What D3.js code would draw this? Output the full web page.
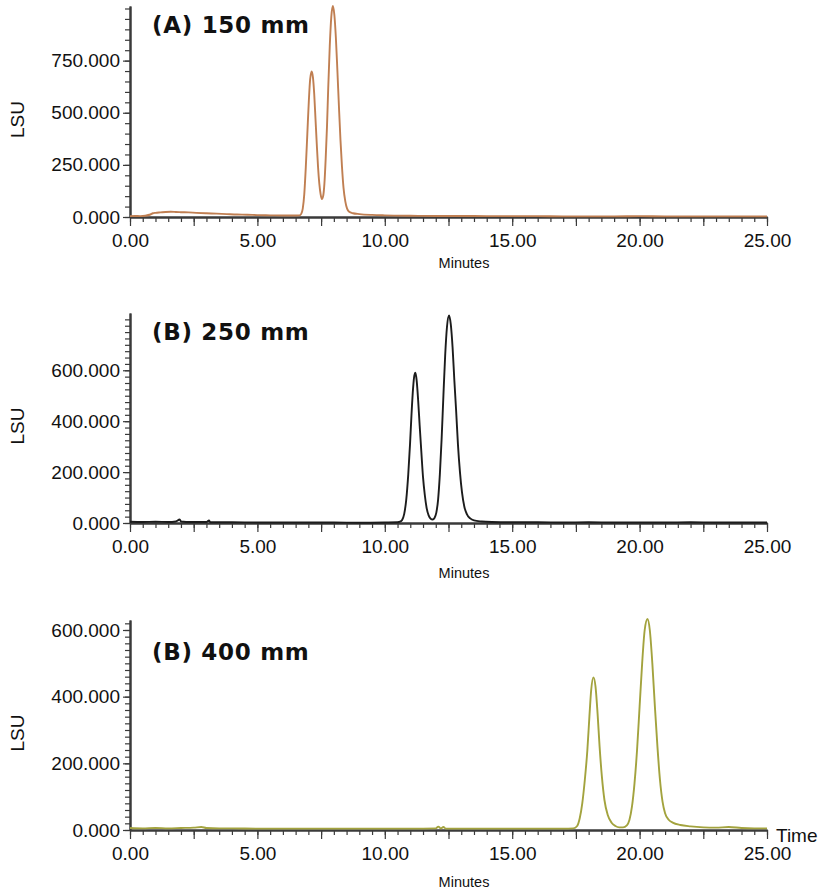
<!DOCTYPE html>
<html>
<head>
<meta charset="utf-8">
<style>
  body { margin: 0; background: #fff; }
  svg { display: block; }
  .axis .domain { stroke: #3a3a3a; stroke-width: 2px; }
  .axis .tick line { stroke: #3a3a3a; stroke-width: 1.2px; }
  .axis text { font-family: 'Liberation Sans', Arial, sans-serif; font-size: 19px; fill: #111; }
  .title { font-family: 'DejaVu Sans', Verdana, sans-serif; font-weight: bold; font-size: 23px; letter-spacing: 0.7px; fill: #111; }
  .lsu { font-family: 'Liberation Sans', Arial, sans-serif; font-size: 19px; fill: #111; }
  .minutes { font-family: 'Liberation Sans', Arial, sans-serif; font-size: 14.5px; fill: #111; }
</style>
</head>
<body>
<svg width="823" height="894"></svg>
<script src="https://d3js.org/d3.v7.min.js"></script>
<script>
// (A) 150 mm column
let minutesA = [0.00, 0.2, 0.4, 0.6, 0.8, 0.9, 1.0, 1.2, 1.4, 1.6, 1.8, 2.0, 2.3, 2.6, 3.0, 3.4, 3.8, 4.2, 4.6, 5.0, 5.5, 6.0, 6.4,
  6.65, 6.72, 6.78, 6.84, 6.90, 6.96, 7.02, 7.07, 7.13, 7.18, 7.23, 7.28, 7.33, 7.38, 7.43, 7.48, 7.53,
  7.58, 7.63, 7.68, 7.73, 7.78, 7.84, 7.90, 7.96, 8.02, 8.08, 8.14, 8.20, 8.26, 8.32, 8.38, 8.45, 8.52, 8.6, 8.75,
  9.0, 9.5, 10.0, 11, 12, 13, 14, 15, 16, 17, 18, 19, 20, 21, 22, 23, 24, 25]
let lsuA = [4, 5, 4, 6, 12, 18, 20, 22, 24, 25, 24, 23, 22, 20, 18, 16, 14, 12, 11, 9, 8, 7, 7,
  8, 15, 40, 110, 240, 400, 560, 660, 698, 670, 590, 470, 350, 240, 160, 110, 86,
  100, 160, 280, 430, 620, 820, 960, 1012, 970, 860, 700, 530, 370, 240, 140, 75, 40, 25, 18,
  14, 10, 8, 6, 5, 5, 4, 4, 4, 3, 3, 3, 4, 3, 3, 3, 3, 3]

// (B) 250 mm column
let minutesB = [0, 0.5, 1.0, 1.5, 1.8, 1.95, 2.0, 2.4, 3.0, 3.1, 3.15, 4, 5, 6, 7, 8, 9, 10, 10.5,
  10.6, 10.68, 10.76, 10.84, 10.92, 10.99, 11.05, 11.11, 11.16, 11.20, 11.25, 11.31, 11.37, 11.44, 11.50, 11.57,
  11.64, 11.72, 11.80, 11.88, 11.95, 12.02, 12.09, 12.16, 12.23, 12.30, 12.37, 12.44, 12.52, 12.59, 12.66, 12.73,
  12.80, 12.87, 12.95, 13.03, 13.12, 13.22, 13.35, 13.5, 13.8, 14.2, 15, 16, 17, 18, 19, 20, 21, 22, 23, 24, 25]
let lsuB = [5, 4, 5, 4, 6, 14, 6, 4, 4, 10, 3, 3, 2, 2, 2, 2, 1, 2, 3,
  5, 12, 35, 90, 190, 310, 430, 530, 580, 590, 560, 480, 380, 270, 180, 110,
  60, 30, 17, 14, 20, 40, 90, 190, 330, 500, 660, 770, 815, 780, 690, 560,
  440, 310, 200, 120, 65, 35, 18, 10, 6, 4, 3, 3, 2, 3, 2, 2, 2, 3, 2, 2, 2]

// (B) 400 mm column
let minutesC = [0, 0.5, 1, 1.5, 2, 2.5, 2.8, 3.0, 3.5, 4, 5, 6, 7, 8, 9, 10, 11, 12.0, 12.1, 12.2, 12.3, 12.4, 13, 14, 15,
  16, 17, 17.4, 17.55, 17.65, 17.75, 17.85, 17.95, 18.03, 18.10, 18.19, 18.27, 18.35, 18.43, 18.52, 18.62, 18.75, 18.9,
  19.05, 19.2, 19.35, 19.5, 19.6, 19.7, 19.8, 19.9, 20.0, 20.1, 20.2, 20.31, 20.4, 20.5, 20.6, 20.7, 20.8, 20.9, 21.0,
  21.15, 21.3, 21.6, 22.0, 22.5, 23, 23.5, 24, 24.5, 25]
let lsuC = [6, 5, 6, 5, 6, 7, 9, 6, 5, 5, 4, 4, 4, 4, 4, 4, 4, 5, 10, 5, 9, 4, 4, 4, 4,
  4, 4, 5, 12, 35, 80, 150, 240, 340, 420, 458, 430, 350, 250, 160, 90, 45, 22,
  12, 8, 8, 14, 30, 70, 140, 240, 370, 500, 600, 633, 600, 500, 370, 250, 150, 85, 50,
  30, 22, 15, 11, 8, 7, 9, 6, 5, 5]

let titles = ["(A) 150 mm", "(B) 250 mm", "(B) 400 mm"]
let yLabelTicks = [[0, 250, 500, 750], [0, 200, 400, 600], [0, 200, 400, 600]]
let yMinorStep = [50, 25, 20]
let yMax = [1012, 825, 630]
let xLabelTicks = [0, 5, 10, 15, 20, 25]
let lineColors = ["#c07f52", "#1c1c1c", "#a3a33e"]

let svg = d3.select("svg")

let left = 130, right = 767
let panels = [
  { mins: minutesA, lsu: lsuA, zero: 217, top: 6, titleY: 33, minutesY: 268 },
  { mins: minutesB, lsu: lsuB, zero: 523, top: 313, titleY: 340, minutesY: 578 },
  { mins: minutesC, lsu: lsuC, zero: 830, top: 620, titleY: 660, minutesY: 887 }
]

panels.forEach(function (p, i) {
  let g = svg.append("g")

  let x = d3.scaleLinear().domain([0, 25]).range([left, right])
  let y = d3.scaleLinear().domain([0, yMax[i]]).range([p.zero, p.top])

  // minor ticks first, then labelled ones on top
  g.append("g")
    .attr("class", "axis")
    .attr("transform", `translate(${left},0)`)
    .call(d3.axisLeft(y).tickValues(d3.range(0, yMax[i], yMinorStep[i])).tickSize(5).tickSizeOuter(0).tickFormat(""))
  g.append("g")
    .attr("class", "axis")
    .attr("transform", `translate(${left},0)`)
    .call(d3.axisLeft(y).tickValues(yLabelTicks[i]).tickSize(7).tickSizeOuter(0).tickPadding(3).tickFormat(d3.format(".3f")))

  g.append("g")
    .attr("class", "axis")
    .attr("transform", `translate(0,${p.zero})`)
    .call(d3.axisBottom(x).tickValues(d3.range(0, 25.01, 0.5)).tickSize(5).tickSizeOuter(0).tickFormat(""))
  g.append("g")
    .attr("class", "axis")
    .attr("transform", `translate(0,${p.zero})`)
    .call(d3.axisBottom(x).tickValues(d3.range(0, 25.01, 2.5)).tickSize(9).tickSizeOuter(0).tickFormat(""))
  let xl = g.append("g")
    .attr("class", "axis")
    .attr("transform", `translate(0,${p.zero})`)
    .call(d3.axisBottom(x).tickValues(xLabelTicks).tickSize(0).tickSizeOuter(0).tickPadding(17).tickFormat(d3.format(".2f")))
  xl.select(".domain").remove()

  let pts = p.mins.map((m, k) => [m, p.lsu[k]])
  let line = d3.line()
    .curve(d3.curveMonotoneX)
    .x(d => x(d[0]))
    .y(d => y(d[1]))

  g.append("path")
    .datum(pts)
    .attr("d", line)
    .style("fill", "none")
    .style("stroke", lineColors[i])
    .style("stroke-width", "1.9px")
    .style("stroke-linejoin", "round")

  g.append("text")
    .attr("class", "title")
    .attr("x", 152)
    .attr("y", p.titleY)
    .text(titles[i])

  g.append("text")
    .attr("class", "lsu")
    .attr("transform", `translate(24,${(p.zero + p.top) / 2 + 8}) rotate(-90)`)
    .attr("text-anchor", "middle")
    .text("LSU")

  g.append("text")
    .attr("class", "minutes")
    .attr("x", 464)
    .attr("y", p.minutesY)
    .attr("text-anchor", "middle")
    .text("Minutes")

  if (i == 2) {
    g.append("text")
      .attr("class", "lsu")
      .attr("x", 776)
      .attr("y", p.zero + 12)
      .text("Time")
  }
})
</script>
</body>
</html>
